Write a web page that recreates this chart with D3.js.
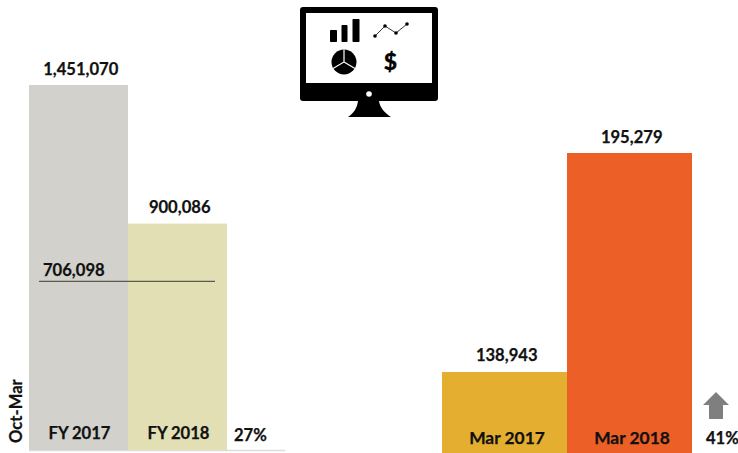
<!DOCTYPE html>
<html><head><meta charset="utf-8">
<script src="https://cdn.jsdelivr.net/npm/d3@7"></script>
<style>html,body{margin:0;background:#fff}svg{display:block}text{font-family:Lato,"Open Sans",sans-serif;font-weight:700;fill:#111;stroke:#111;stroke-width:.25px;font-size:16.6px}</style>
</head><body><div id="c"></div>
<script>
const leftCategories = ["FY 2017","FY 2018"];
const leftValues = [1451070,900086];
const leftColors = ["#d2d1cc","#e2dfb4"];
const referenceValue = 706098;
const leftChange = "27%";
const rightCategories = ["Mar 2017","Mar 2018"];
const rightValues = [138943,195279];
const rightColors = ["#e4af30","#ec5f26"];
const rightChange = "41%";
const sideLabel = "Oct-Mar";
const fmt = d3.format(",");

const svg = d3.select("#c").append("svg").attr("width",738).attr("height",453);

const xL = d3.scaleBand().domain(leftCategories).range([29,227]);
const yL = d3.scaleLinear().domain([0,1451070]).range([450,85]);
const xR = d3.scaleBand().domain(rightCategories).range([442,692]);
const yR = d3.scaleLinear().domain([118100,195279]).range([453,153]);

function panel(cats,vals,cols,x,y,catY,catSize,catDx){
  const g = svg.append("g");
  const data = cats.map((c,i)=>({c,v:vals[i],col:cols[i]}));
  g.selectAll("rect").data(data).join("rect")
    .attr("x",d=>x(d.c)).attr("width",x.bandwidth())
    .attr("y",d=>y(d.v)).attr("height",d=>y.range()[0]-y(d.v)).attr("fill",d=>d.col);
  g.selectAll("text.v").data(data).join("text").attr("class","v")
    .attr("x",d=>x(d.c)+x.bandwidth()/2+2.2).attr("y",d=>y(d.v)-10.5)
    .attr("text-anchor","middle").text(d=>fmt(d.v));
  g.selectAll("text.c").data(data).join("text").attr("class","c")
    .attr("x",d=>x(d.c)+x.bandwidth()/2+catDx).attr("y",catY)
    .attr("text-anchor","middle").style("font-size",catSize).text(d=>d.c);
}
svg.append("line").attr("x1",29).attr("x2",285).attr("y1",450.5).attr("y2",450.5).attr("stroke","#dcdcdc").attr("stroke-width",1.5);
panel(leftCategories,leftValues,leftColors,xL,yL,439,"16.6px",1);
panel(rightCategories,rightValues,rightColors,xR,yR,444,"17.4px",2.5);

const refOffset = 9;
svg.append("line").attr("x1",39).attr("x2",215)
  .attr("y1",yL(referenceValue)+refOffset).attr("y2",yL(referenceValue)+refOffset)
  .attr("stroke","#5a5a50").attr("stroke-width",1.4);
svg.append("text").attr("x",43).attr("y",yL(referenceValue)+refOffset-5.5).text(fmt(referenceValue));

svg.append("text").attr("x",234).attr("y",441).text(leftChange);
svg.append("text").attr("x",706).attr("y",444).text(rightChange);
svg.append("text").attr("transform","translate(22,443) rotate(-90)").text(sideLabel);

svg.append("path").attr("fill","#7f7f7f")
  .attr("d","M716 392L729 405H723V419H709V405H703Z");

const icon = svg.append("g");
icon.append("rect").attr("x",300).attr("y",7).attr("width",138).attr("height",94).attr("rx",3).attr("fill","#000");
icon.append("rect").attr("x",306).attr("y",13).attr("width",126).attr("height",70).attr("fill","#fff");
icon.append("circle").attr("cx",369).attr("cy",94).attr("r",2.8).attr("fill","#fff");
icon.append("path").attr("d","M358 101H379C380 108 385 113 391 117H348C354 113 357 108 358 101Z").attr("fill","#000");
[[330,30,7,12],[341.5,25,6,17],[352.5,19,7,23]].forEach(b=>icon.append("rect").attr("x",b[0]).attr("y",b[1]).attr("width",b[2]).attr("height",b[3]).attr("rx",.7).attr("fill","#000"));
const pts=[[375,36],[385,26],[396,33],[407,24]];
icon.append("path").attr("d",d3.line()(pts)).attr("fill","none").attr("stroke","#000").attr("stroke-width",.8);
icon.selectAll("circle.p").data(pts).join("circle").attr("class","p").attr("cx",d=>d[0]).attr("cy",d=>d[1]).attr("r",1.8).attr("fill","#000");
icon.append("circle").attr("cx",344).attr("cy",62).attr("r",12.5).attr("fill","#000");
icon.append("path").attr("d","M344 49.5V62L333 68.5M344 62L355 68.5").attr("fill","none").attr("stroke","#fff").attr("stroke-width",1.2);
icon.append("text").attr("x",390.5).attr("y",70).attr("text-anchor","middle").style("font-size","23px").style("fill","#000").style("font-weight","900").text("$");
</script></body></html>
